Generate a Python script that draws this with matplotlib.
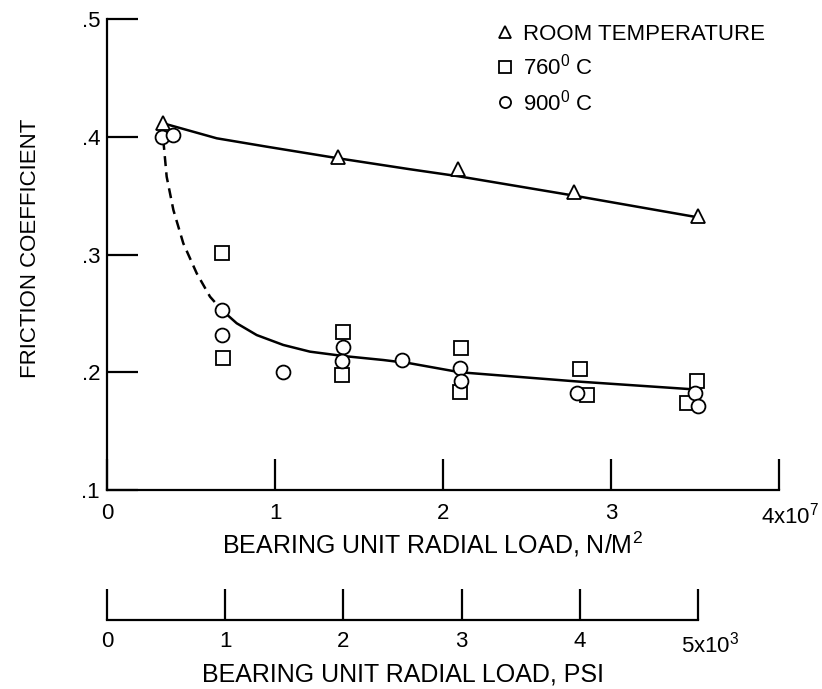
import numpy as np
import matplotlib
matplotlib.use("Agg")
import matplotlib.pyplot as plt
from matplotlib.transforms import ScaledTranslation

plt.rcParams['font.family'] = ['Liberation Sans', 'DejaVu Sans']
plt.rcParams['mathtext.fontset'] = 'custom'
plt.rcParams['mathtext.rm'] = 'Liberation Sans'
plt.rcParams['mathtext.default'] = 'regular'

# ---- data (load in units of 1e7 N/m^2) ----
room_load = [0.335, 1.377, 2.09, 2.78, 3.52]
room_fric = [0.4114, 0.383, 0.373, 0.353, 0.333]

t760_load = [0.683, 0.692, 1.407, 1.397, 2.107, 2.10, 2.815, 2.86, 3.51, 3.45]
t760_fric = [0.301, 0.212, 0.2345, 0.198, 0.221, 0.183, 0.203, 0.181, 0.193, 0.174]

t900_load = [0.325, 0.395, 0.683, 0.683, 1.049, 1.407, 1.397, 1.754, 2.10, 2.11, 2.80, 3.50, 3.52]
t900_fric = [0.400, 0.4015, 0.2529, 0.2316, 0.2005, 0.2212, 0.2098, 0.2104, 0.204, 0.193, 0.182, 0.182, 0.171]

# faired curves
room_curve_x = [0.335, 0.653, 0.95, 1.377, 1.804, 2.09, 2.78, 3.50]
room_curve_y = [0.4114, 0.3987, 0.3916, 0.3817, 0.3724, 0.3665, 0.350, 0.332]

hot_dash_x = [0.335, 0.355, 0.395, 0.454, 0.534, 0.613, 0.683]
hot_dash_y = [0.3973, 0.3661, 0.3378, 0.3095, 0.2840, 0.2642, 0.2529]

hot_solid_x = [0.683, 0.772, 0.891, 1.049, 1.208, 1.407, 1.645, 1.804, 2.101, 2.815, 3.49]
hot_solid_y = [0.2529, 0.2416, 0.2316, 0.2232, 0.2175, 0.2138, 0.2104, 0.2076, 0.2000, 0.1920, 0.1855]

y_ticks = [0.1, 0.2, 0.3, 0.4, 0.5]
y_ticklabels = ['.1', '.2', '.3', '.4', '.5']
x_ticks = [0, 1, 2, 3, 4]
x_ticklabels = ['0', '1', '2', '3', r'4x10$^{7}$']
psi_ticks = [0, 1, 2, 3, 4, 5]
psi_ticklabels = ['0', '1', '2', '3', '4', r'5x10$^{3}$']

LW = 1.6
TICK_LEN = 22
TICK_FS = 16
TITLE_FS = 18

fig = plt.figure(figsize=(8.22, 6.89), dpi=100)
ax = fig.add_axes([0.1302, 0.2888, 0.8175, 0.6836])

mk = dict(linestyle='none', markerfacecolor='white', markeredgecolor='black',
          markeredgewidth=1.3, markersize=10)

ax.plot(room_curve_x, room_curve_y, color='black', lw=1.8, zorder=2)
ax.plot(hot_dash_x, hot_dash_y, color='black', lw=1.8, ls=(0, (4, 2.5)), zorder=2)
ax.plot(hot_solid_x, hot_solid_y, color='black', lw=1.8, zorder=2)

ax.plot(room_load, room_fric, marker='^', label='ROOM TEMPERATURE', zorder=3, **mk)
ax.plot(t760_load, t760_fric, marker='s', label=r'760$^{0}$ C', zorder=3, **mk)
ax.plot(t900_load, t900_fric, marker='o', label=r'900$^{0}$ C', zorder=3, **mk)

ax.set_xlim(0, 4)
ax.set_ylim(0.1, 0.5)
ax.set_xticks(x_ticks)
ax.set_xticklabels(x_ticklabels)
ax.set_yticks(y_ticks)
ax.set_yticklabels(y_ticklabels)

for s in ['top', 'right']:
    ax.spines[s].set_visible(False)
for s in ['left', 'bottom']:
    ax.spines[s].set_linewidth(LW)

ax.tick_params(axis='both', direction='in', length=TICK_LEN, width=LW, labelsize=TICK_FS)
ax.tick_params(axis='x', pad=9)
ax.tick_params(axis='y', pad=5)

# exponent label: leading digit sits near its tick, the rest runs right
last = ax.get_xticklabels()[-1]
last.set_horizontalalignment('left')
last.set_transform(last.get_transform() + ScaledTranslation(-13 / 72, 0, fig.dpi_scale_trans))

ax.set_xlabel(r'BEARING UNIT RADIAL LOAD, N/M$^{2}$', fontsize=TITLE_FS)
ax.xaxis.set_label_coords(0.485, -0.085)
ax.set_ylabel('FRICTION COEFFICIENT', fontsize=16)
ax.yaxis.set_label_coords(-0.098, 0.514)

leg = ax.legend(loc='upper left', bbox_to_anchor=(0.580, 0.99), frameon=False,
                fontsize=16, handlelength=0.7, handletextpad=0.5,
                labelspacing=0.42, borderaxespad=0, borderpad=0, markerscale=0.8)

# second scale in psi
ax2 = fig.add_axes([0.1302, 0.1001, 591 / 822, 0.001])
ax2.set_xlim(0, 5)
ax2.set_ylim(0, 1)
ax2.set_xticks(psi_ticks)
ax2.set_xticklabels(psi_ticklabels)
ax2.set_yticks([])
for s in ['top', 'right', 'left']:
    ax2.spines[s].set_visible(False)
ax2.spines['bottom'].set_linewidth(LW)
ax2.patch.set_visible(False)
ax2.tick_params(axis='x', direction='in', length=TICK_LEN, width=LW, labelsize=TICK_FS, pad=8)
last2 = ax2.get_xticklabels()[-1]
last2.set_horizontalalignment('left')
last2.set_transform(last2.get_transform() + ScaledTranslation(-12 / 72, 0, fig.dpi_scale_trans))
ax2.set_xlabel('BEARING UNIT RADIAL LOAD, PSI', fontsize=TITLE_FS, labelpad=4)

fig.savefig('out.png', dpi=100)
